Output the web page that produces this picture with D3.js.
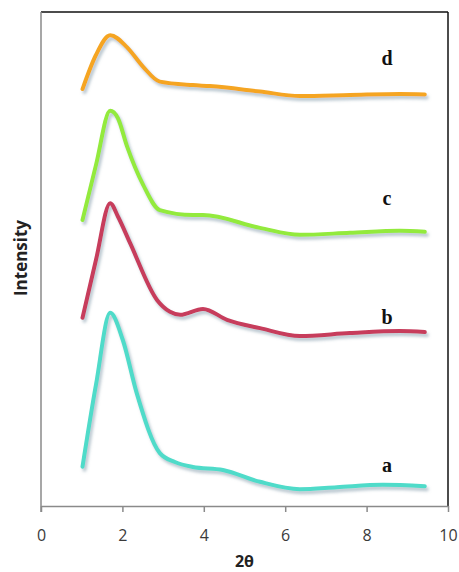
<!DOCTYPE html>
<html>
<head>
<meta charset="utf-8">
<script src="https://cdnjs.cloudflare.com/ajax/libs/d3/7.8.5/d3.min.js"></script>
<style>
  body { margin: 0; background: #fff; }
  svg { display: block; }
</style>
</head>
<body>
<div id="chart"></div>
<script>
// 2-theta values and intensity (arbitrary units)
const xA = [1.02, 1.35, 1.70, 2.01, 2.35, 2.92, 3.29, 3.73, 4.47, 5.38, 6.36, 7.27, 8.40, 9.43];
const yA = [7.96, 24.5, 39.1, 33.6, 22.9, 10.7, 8.9, 7.9, 7.3, 4.9, 3.4, 3.8, 4.3, 4.0];

const xB = [1.02, 1.35, 1.70, 1.89, 2.19, 2.85, 3.17, 3.42, 3.98, 4.57, 5.38, 6.36, 7.59, 8.82, 9.43];
const yB = [38.1, 49.8, 61.3, 58.6, 53.2, 41.7, 39.3, 38.7, 39.9, 37.7, 36.0, 34.4, 35.0, 35.4, 35.2];

const xC = [1.02, 1.35, 1.70, 1.89, 2.11, 2.51, 2.92, 3.73, 3.98, 5.38, 6.36, 7.59, 8.82, 9.43];
const yC = [57.9, 69.0, 80.0, 78.5, 72.9, 65.0, 59.9, 58.9, 58.9, 56.3, 54.9, 55.3, 55.7, 55.5];

const xD = [1.02, 1.35, 1.70, 2.11, 2.51, 2.92, 3.73, 4.15, 5.38, 6.36, 7.59, 8.82, 9.43];
const yD = [84.4, 91.3, 95.3, 92.9, 88.9, 85.9, 85.2, 85.0, 83.9, 83.0, 83.2, 83.4, 83.3];

const seriesNames = ["a", "b", "c", "d"];
const seriesColors = ["#4fdbc9", "#c73c5c", "#93ea3e", "#f5a522"];
const labelX = 8.5;
const labelY = [6.9, 36.8, 60.9, 89.3];

const xTicks = [0, 2, 4, 6, 8, 10];

const width = 459, height = 572;
const margin = { top: 12, right: 11, bottom: 66, left: 41 };

const svg = d3.select("#chart").append("svg")
  .attr("width", width)
  .attr("height", height);

// soft shadow under each line
const defs = svg.append("defs");
const f = defs.append("filter").attr("id", "shadow")
  .attr("x", "-10%").attr("y", "-10%").attr("width", "120%").attr("height", "130%");
f.append("feDropShadow")
  .attr("dx", 2).attr("dy", 3).attr("stdDeviation", 1.4)
  .attr("flood-color", "#7f98a8").attr("flood-opacity", 0.55);

const x = d3.scaleLinear().domain([0, 10]).range([margin.left, width - margin.right]);
const y = d3.scaleLinear().domain([0, 100]).range([height - margin.bottom, margin.top]);

// frame: top and right black, left and bottom grey
svg.append("line")
  .attr("x1", x(0)).attr("x2", x(10)).attr("y1", y(100)).attr("y2", y(100))
  .attr("stroke", "#111").attr("stroke-width", 1.5);
svg.append("line")
  .attr("x1", x(10)).attr("x2", x(10)).attr("y1", y(100)).attr("y2", y(0))
  .attr("stroke", "#111").attr("stroke-width", 1.5);
svg.append("line")
  .attr("x1", x(0)).attr("x2", x(0)).attr("y1", y(100)).attr("y2", y(0) + 6)
  .attr("stroke", "#8a8a8a").attr("stroke-width", 1.5);

const xAxis = svg.append("g")
  .attr("transform", "translate(0," + y(0) + ")")
  .call(d3.axisBottom(x).tickValues(xTicks).tickSize(6).tickPadding(18).tickSizeOuter(0));
xAxis.select(".domain").attr("stroke", "#8a8a8a").attr("stroke-width", 1.5);
xAxis.selectAll(".tick line").attr("stroke", "#8a8a8a").attr("stroke-width", 1.5);
xAxis.selectAll(".tick text")
  .attr("fill", "#3a3a3a")
  .style("font-family", "'Open Sans', sans-serif")
  .style("font-size", "16px");

svg.append("text")
  .attr("x", (x(0) + x(10)) / 2)
  .attr("y", 567)
  .attr("text-anchor", "middle")
  .attr("fill", "#222")
  .style("font-family", "'Open Sans', sans-serif")
  .style("font-weight", "bold")
  .style("font-size", "16px")
  .text("2θ");

svg.append("text")
  .attr("transform", "translate(27," + 258 + ") rotate(-90)")
  .attr("text-anchor", "middle")
  .attr("fill", "#222")
  .style("font-family", "'Open Sans', sans-serif")
  .style("font-weight", "bold")
  .style("font-size", "17px")
  .text("Intensity");

const xs = [xA, xB, xC, xD];
const ys = [yA, yB, yC, yD];

const line = d3.line()
  .x(d => x(d[0]))
  .y(d => y(d[1]))
  .curve(d3.curveMonotoneX);

seriesNames.forEach((name, i) => {
  const pts = xs[i].map((v, j) => [v, ys[i][j]]);
  svg.append("path")
    .datum(pts)
    .attr("d", line)
    .attr("fill", "none")
    .attr("stroke", seriesColors[i])
    .attr("stroke-width", 4)
    .attr("stroke-linecap", "round")
    .attr("stroke-linejoin", "round")
    .attr("filter", "url(#shadow)");

  svg.append("text")
    .attr("x", x(labelX))
    .attr("y", y(labelY[i]))
    .attr("text-anchor", "middle")
    .attr("fill", "#111")
    .style("font-family", "'Liberation Serif', serif")
    .style("font-weight", "bold")
    .style("font-size", "20px")
    .text(name);
});
</script>
</body>
</html>
